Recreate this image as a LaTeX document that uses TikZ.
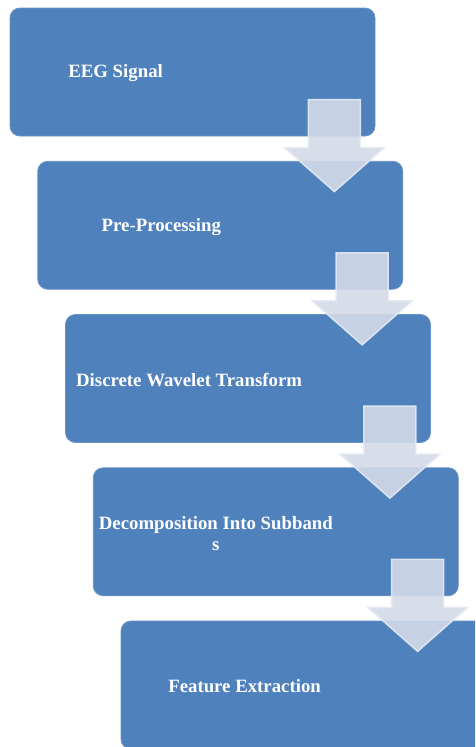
\documentclass[tikz,border=0pt]{standalone}
\usepackage{fontspec}
\setmainfont{Liberation Serif}
\usetikzlibrary{positioning}

\definecolor{stepblue}{RGB}{79,129,189}
\definecolor{arrowfill}{RGB}{211,218,232}
\definecolor{arrowedge}{RGB}{228,234,244}

\tikzset{
  stepbox/.style={rectangle, rounded corners=10pt, fill=stepblue, draw=stepblue!85!white,
    line width=0.8pt, minimum width=365pt, minimum height=128pt, inner sep=0pt},
  steplabel/.style={text=white, font=\fontsize{18.8}{21}\selectfont\bfseries,
    align=center, inner sep=0pt, yshift=-1.5pt},
  downarrow/.style={fill=arrowfill, fill opacity=0.9, draw=arrowedge, draw opacity=0.9,
    line width=1.5pt, line join=miter}
}

\begin{document}
\begin{tikzpicture}[x=1pt,y=1pt]
  \useasboundingbox (0,0) rectangle (475,-747);
  \clip (0,0) rectangle (475,-747);

  % Create the process boxes
  \node[stepbox] (eeg) at (192.5,-72) {};
  \node[stepbox] (prep) at (220.25,-225.25) {};
  \node[stepbox] (dwt) at (248,-378.5) {};
  \node[stepbox] (decomp) at (275.75,-531.75) {};
  \node[stepbox] (feat) at (303.5,-685) {};

  % Add the labels
  \node[steplabel] (eegtxt) at ([xshift=106pt]eeg.west) {EEG Signal};
  \node[steplabel] (preptxt) at ([xshift=124pt]prep.west) {Pre-Processing};
  \node[steplabel] (dwttxt) at ([xshift=124pt]dwt.west) {Discrete Wavelet Transform};
  \node[steplabel] (decomptxt) at ([xshift=123pt]decomp.west) {Decomposition Into Subband\\s};
  \node[steplabel] (feattxt) at ([xshift=124pt]feat.west) {Feature Extraction};

  % Add the down arrows
  \draw[downarrow] ([xshift=-67pt,yshift=-92pt]eeg.north east) -- ++(52,0) -- ++(0,-48)
    -- ++(24,0) -- ++(-50,-44) -- ++(-50,44) -- ++(24,0) -- cycle;
  \draw[downarrow] ([xshift=-67pt,yshift=-92pt]prep.north east) -- ++(52,0) -- ++(0,-48)
    -- ++(24,0) -- ++(-50,-44) -- ++(-50,44) -- ++(24,0) -- cycle;
  \draw[downarrow] ([xshift=-67pt,yshift=-92pt]dwt.north east) -- ++(52,0) -- ++(0,-48)
    -- ++(24,0) -- ++(-50,-44) -- ++(-50,44) -- ++(24,0) -- cycle;
  \draw[downarrow] ([xshift=-67pt,yshift=-92pt]decomp.north east) -- ++(52,0) -- ++(0,-48)
    -- ++(24,0) -- ++(-50,-44) -- ++(-50,44) -- ++(24,0) -- cycle;
\end{tikzpicture}
\end{document}
